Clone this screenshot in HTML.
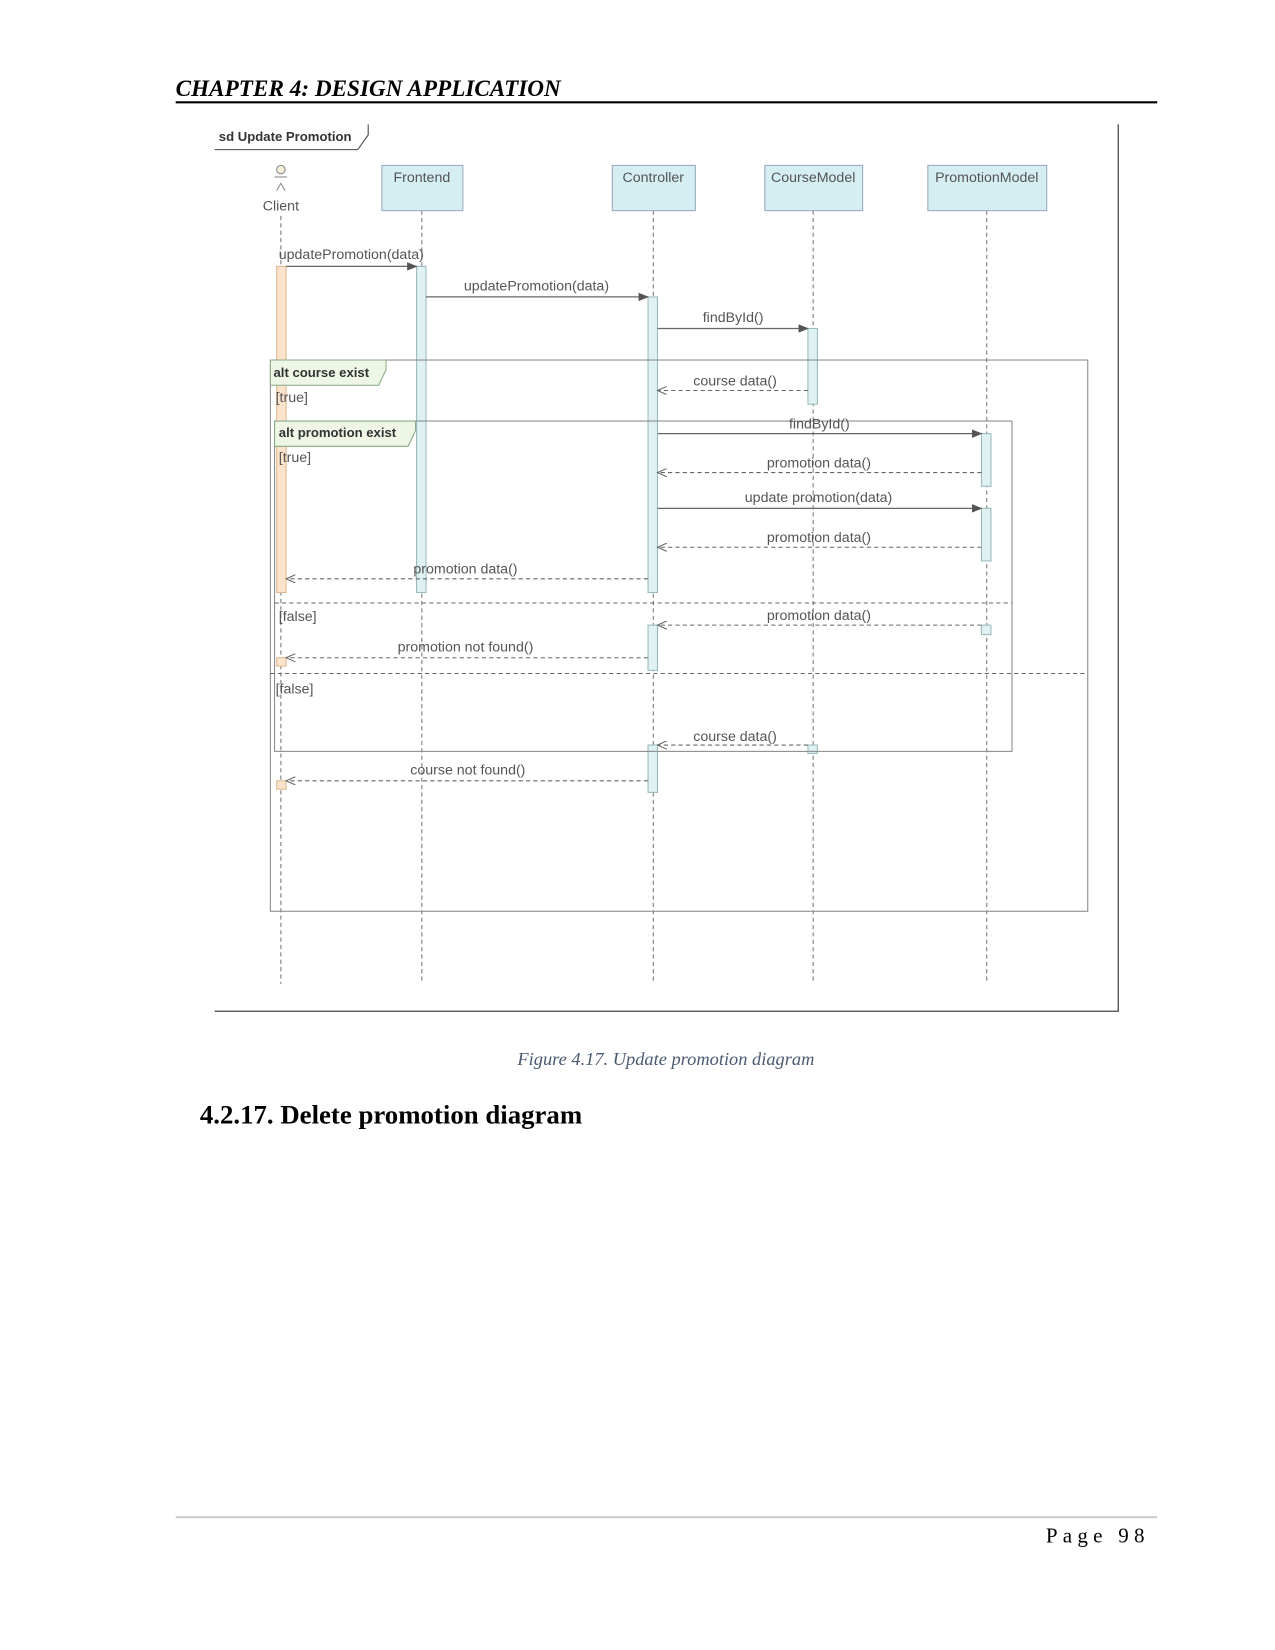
<!DOCTYPE html>
<html><head><meta charset="utf-8"><style>
html,body{margin:0;padding:0;background:#fff}
svg{display:block}
.d{font-family:"Liberation Sans",sans-serif;font-size:13.5px;fill:#555}
.b{font-weight:bold;fill:#333;font-size:12.5px}
.ll{stroke:#777;stroke-width:1;stroke-dasharray:4,3}
.msg{stroke:#666;stroke-width:1.2}
.ret{stroke:#666;stroke-width:1;stroke-dasharray:4,3}
.act{fill:#dff1f1;stroke:#9bb;stroke-width:1}
.oact{fill:#fbe3cc;stroke:#e0b890;stroke-width:1}
.box{fill:#d4eef2;stroke:#9ab;stroke-width:1}
</style></head><body>
<svg width="1275" height="1650" viewBox="0 0 1212 1568" xmlns="http://www.w3.org/2000/svg">
<defs>
<marker id="fa" markerWidth="10" markerHeight="8" refX="9" refY="4" orient="auto" markerUnits="userSpaceOnUse"><path d="M0,0 L10,4 L0,8 Z" fill="#555"/></marker>
<marker id="oa" markerWidth="10" markerHeight="8" refX="9" refY="4" orient="auto" markerUnits="userSpaceOnUse"><path d="M0,0 L9,4 L0,8" fill="none" stroke="#666"/></marker>
</defs>
<text x="167" y="91" font-family="Liberation Serif,serif" font-size="22" font-weight="bold" font-style="italic" fill="#000" textLength="366">CHAPTER 4: DESIGN APPLICATION</text>
<line x1="167" y1="97" x2="1100" y2="97" stroke="#000" stroke-width="2"/>
<polyline points="1063,118 1063,961 204,961" fill="none" stroke="#444" stroke-width="1.2"/>
<polyline points="204,142 340,142 350,128 350,118" fill="none" stroke="#444"/>
<text x="208" y="134" class="d b">sd Update Promotion</text>
<line x1="267" y1="205" x2="267" y2="935" class="ll" stroke="#bbb"/>
<line x1="401" y1="200" x2="401" y2="935" class="ll"/>
<line x1="621" y1="200" x2="621" y2="935" class="ll"/>
<line x1="773" y1="200" x2="773" y2="935" class="ll"/>
<line x1="938" y1="200" x2="938" y2="935" class="ll"/>
<circle cx="267" cy="161" r="4" fill="#f6f0d8" stroke="#888"/>
<line x1="261" y1="168" x2="273" y2="168" stroke="#888"/>
<polyline points="263,181 267,174 271,181" fill="none" stroke="#888"/>
<text x="267" y="200" class="d" text-anchor="middle">Client</text>
<rect x="363" y="157" width="77" height="43" class="box"/><text x="401" y="173" class="d" text-anchor="middle">Frontend</text>
<rect x="582" y="157" width="79" height="43" class="box"/><text x="621" y="173" class="d" text-anchor="middle">Controller</text>
<rect x="727" y="157" width="93" height="43" class="box"/><text x="773" y="173" class="d" text-anchor="middle">CourseModel</text>
<rect x="882" y="157" width="113" height="43" class="box"/><text x="938" y="173" class="d" text-anchor="middle">PromotionModel</text>
<rect x="263" y="253" width="9" height="310" class="oact"/>
<rect x="396" y="253" width="9" height="310" class="act"/>
<rect x="616" y="282" width="9" height="281" class="act"/>
<rect x="768" y="312" width="9" height="72" class="act"/>
<rect x="933" y="412" width="9" height="50" class="act"/>
<rect x="933" y="483" width="9" height="50" class="act"/>
<rect x="933" y="594" width="9" height="9" class="act"/>
<rect x="616" y="594" width="9" height="43" class="act"/>
<rect x="263" y="625" width="9" height="8" class="oact"/>
<rect x="768" y="708" width="9" height="8" class="act"/>
<rect x="616" y="708" width="9" height="45" class="act"/>
<rect x="263" y="742" width="9" height="8" class="oact"/>
<rect x="257" y="342" width="777" height="524" fill="none" stroke="#888"/>
<polygon points="257,342 367,342 367,351 360,366 257,366" fill="#eef6e6" stroke="#8a8"/>
<text x="260" y="358" class="d b">alt course exist</text>
<text x="262" y="382" class="d">[true]</text>
<line x1="257" y1="640" x2="1034" y2="640" class="ret" stroke="#888"/>
<text x="262" y="659" class="d">[false]</text>
<rect x="261" y="400" width="701" height="314" fill="none" stroke="#888"/>
<polygon points="261,400 395,400 395,409 388,424 261,424" fill="#eef6e6" stroke="#8a8"/>
<text x="265" y="415" class="d b">alt promotion exist</text>
<text x="265" y="439" class="d">[true]</text>
<line x1="261" y1="573" x2="962" y2="573" class="ret" stroke="#888"/>
<text x="265" y="590" class="d">[false]</text>
<line x1="272" y1="253" x2="396" y2="253" class="msg" marker-end="url(#fa)"/><text x="265" y="246" class="d">updatePromotion(data)</text>
<line x1="405" y1="282" x2="616" y2="282" class="msg" marker-end="url(#fa)"/><text x="441" y="276" class="d">updatePromotion(data)</text>
<line x1="625" y1="312" x2="768" y2="312" class="msg" marker-end="url(#fa)"/><text x="668" y="306" class="d">findById()</text>
<line x1="768" y1="371" x2="625" y2="371" class="ret" marker-end="url(#oa)"/><text x="659" y="366" class="d">course data()</text>
<line x1="625" y1="412" x2="933" y2="412" class="msg" marker-end="url(#fa)"/><text x="750" y="407" class="d">findById()</text>
<line x1="933" y1="449" x2="625" y2="449" class="ret" marker-end="url(#oa)"/><text x="729" y="444" class="d">promotion data()</text>
<line x1="625" y1="483" x2="933" y2="483" class="msg" marker-end="url(#fa)"/><text x="708" y="477" class="d">update promotion(data)</text>
<line x1="933" y1="520" x2="625" y2="520" class="ret" marker-end="url(#oa)"/><text x="729" y="515" class="d">promotion data()</text>
<line x1="616" y1="550" x2="272" y2="550" class="ret" marker-end="url(#oa)"/><text x="393" y="545" class="d">promotion data()</text>
<line x1="933" y1="594" x2="625" y2="594" class="ret" marker-end="url(#oa)"/><text x="729" y="589" class="d">promotion data()</text>
<line x1="616" y1="625" x2="272" y2="625" class="ret" marker-end="url(#oa)"/><text x="378" y="619" class="d">promotion not found()</text>
<line x1="768" y1="708" x2="625" y2="708" class="ret" marker-end="url(#oa)"/><text x="659" y="704" class="d">course data()</text>
<line x1="616" y1="742" x2="272" y2="742" class="ret" marker-end="url(#oa)" stroke="#aaa"/><text x="390" y="736" class="d">course not found()</text>
<text x="633" y="1012" text-anchor="middle" font-family="Liberation Serif,serif" font-size="17.5" font-style="italic" fill="#4a5a70">Figure 4.17. Update promotion diagram</text>
<text x="190" y="1068" font-family="Liberation Serif,serif" font-size="25.5" font-weight="bold" fill="#000">4.2.17. Delete promotion diagram</text>
<line x1="167" y1="1442" x2="1100" y2="1442" stroke="#ccc" stroke-width="2"/>
<text x="1093" y="1466" text-anchor="end" font-family="Liberation Serif,serif" font-size="20" letter-spacing="5" fill="#000">Page 98</text>
</svg>
</body></html>
